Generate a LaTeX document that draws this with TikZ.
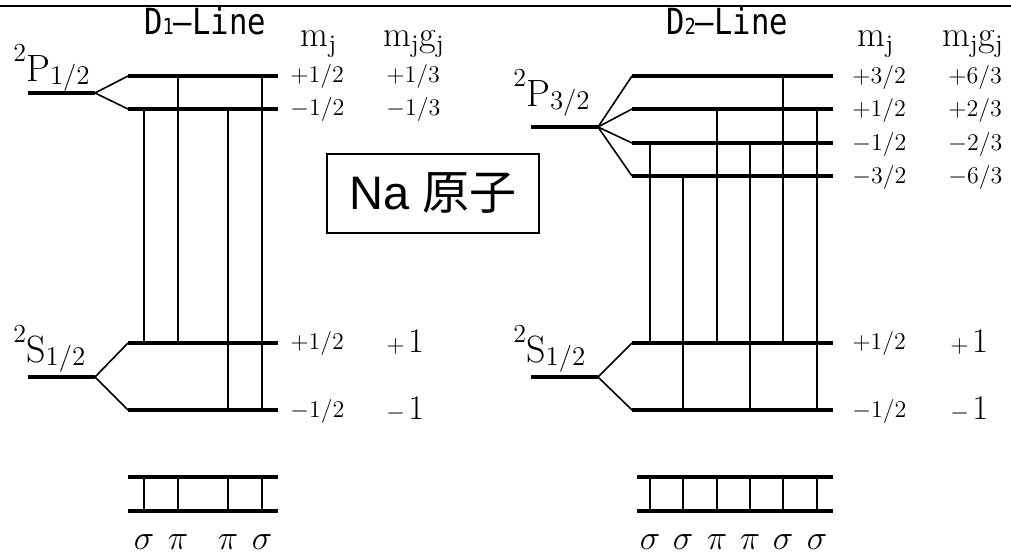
\documentclass[tikz,border=0pt]{standalone}
\usepackage{fontspec}
\usepackage{tikz}
\usetikzlibrary{calc,positioning}
\newfontfamily\monofnt{DejaVu Sans Mono}
\newfontfamily\sansfnt{Liberation Sans}
\newfontfamily\cjkfnt{Noto Sans CJK JP}
\tikzset{
    levelline/.style={line width=1.8pt, black},
    splitline/.style={line width=0.8pt, black},
    transline/.style={line width=0.8pt, black},
    vallabel/.style={anchor=west, inner sep=0pt, font=\fontsize{12.5}{14}\selectfont},
    termlabel/.style={anchor=base west, inner sep=0pt, font=\fontsize{19}{22}\selectfont},
    headlabel/.style={anchor=base, inner sep=0pt, font=\fontsize{18}{21}\selectfont},
    pollabel/.style={anchor=base, inner sep=0pt, font=\fontsize{19}{20}\selectfont},
    linetitle/.style={anchor=base, inner sep=0pt, font=\monofnt\fontsize{18}{20}\selectfont}
}
\newcommand{\bigval}[2]{{\fontsize{12.5}{14}\selectfont$#1$}\,{\fontsize{17}{20}\selectfont$#2$}}
\newcommand{\termtxt}[2]{\raisebox{0.55em}{\fontsize{13}{14}\selectfont 2}#1\raisebox{-0.06em}{\fontsize{13.5}{14}\selectfont #2}}
\newcommand{\dtitle}[1]{\scalebox{0.85}[1]{D{\fontsize{11}{12}\selectfont #1}–Line}}

\begin{document}
\begin{tikzpicture}[x=0.5pt,y=-0.5pt]
    \useasboundingbox (0,0) rectangle (1011,555);
    \coordinate (topl) at (0,6);
    \coordinate (topr) at (1011,6);
    \draw[line width=1pt] (topl) -- (topr);

    % ===================== D1-Line =====================
    \path
    (28,93) coordinate (pl0)   (95,93) coordinate (pls)
    (128,76) coordinate (plu)  (278,76) coordinate (plu_e)
    (128,109) coordinate (pld) (278,109) coordinate (pld_e)
    (28,377) coordinate (sl0)  (95,377) coordinate (sls)
    (128,343) coordinate (slu) (278,343) coordinate (slu_e)
    (128,410) coordinate (sld) (278,410) coordinate (sld_e)
    (128,477) coordinate (ll1) (278,477) coordinate (ll1_e)
    (128,511) coordinate (ll2) (278,511) coordinate (ll2_e)
    (144,511) coordinate (cl1) (178,511) coordinate (cl2)
    (228,511) coordinate (cl3) (262,511) coordinate (cl4);

    % levels
    \draw[levelline] (pl0) -- (pls);
    \draw[levelline] (plu) -- (plu_e);
    \draw[levelline] (pld) -- (pld_e);
    \draw[levelline] (sl0) -- (sls);
    \draw[levelline] (slu) -- (slu_e);
    \draw[levelline] (sld) -- (sld_e);
    \draw[levelline] (ll1) -- (ll1_e);
    \draw[levelline] (ll2) -- (ll2_e);
    % splitting
    \draw[splitline] (pls) -- (plu);
    \draw[splitline] (pls) -- (pld);
    \draw[splitline] (sls) -- (slu);
    \draw[splitline] (sls) -- (sld);
    % transitions
    \draw[transline] (cl1 |- pld) -- (cl1 |- slu);
    \draw[transline] (cl2 |- plu) -- (cl2 |- slu);
    \draw[transline] (cl3 |- pld) -- (cl3 |- sld);
    \draw[transline] (cl4 |- plu) -- (cl4 |- sld);
    \foreach \c in {cl1,cl2,cl3,cl4}
        \draw[transline] (\c |- ll1) -- (\c);

    % labels
    \node[linetitle] (d1) at (205,35) {\dtitle{1}};
    \node[headlabel] (mjl) at (319,47) {$\mathrm{m_j}$};
    \node[headlabel] (mjgjl) at (414,47) {$\mathrm{m_jg_j}$};
    \node[termlabel] (tpl) at (13,82) {\termtxt{P}{1/2}};
    \node[termlabel] (tsl) at (13,363) {\termtxt{S}{1/2}};
    \node[vallabel] (vl1) at (290,77) {$+1/2$};
    \node[vallabel] (vl2) at (290,110) {$-1/2$};
    \node[vallabel] (gl1) at (386,77) {$+1/3$};
    \node[vallabel] (gl2) at (386,110) {$-1/3$};
    \node[vallabel] (vl3) at (290,344) {$+1/2$};
    \node[vallabel] (vl4) at (290,411) {$-1/2$};
    \node[anchor=west, inner sep=0pt] (gl3) at (386,342) {\bigval{+}{1}};
    \node[anchor=west, inner sep=0pt] (gl4) at (386,409) {\bigval{-}{1}};
    \node[pollabel] (pl1) at (cl1 |- 0,549) {$\sigma$};
    \node[pollabel] (pl2) at (cl2 |- 0,549) {$\pi$};
    \node[pollabel] (pl3) at (cl3 |- 0,549) {$\pi$};
    \node[pollabel] (pl4) at (cl4 |- 0,549) {$\sigma$};

    % ===================== Na box =====================
    \node[draw, line width=0.9pt, minimum width=106pt, minimum height=39.5pt, inner sep=0pt,
          font=\fontsize{23.5}{26}\selectfont] (na) at (433,193.5) {\sansfnt Na \cjkfnt 原子};

    % ===================== D2-Line =====================
    \path
    (531,127) coordinate (pr0)  (598,127) coordinate (prs)
    (632,76) coordinate (pr1)   (833,76) coordinate (pr1_e)
    (632,109) coordinate (pr2)  (833,109) coordinate (pr2_e)
    (632,143) coordinate (pr3)  (833,143) coordinate (pr3_e)
    (632,176) coordinate (pr4)  (833,176) coordinate (pr4_e)
    (531,377) coordinate (sr0)  (598,377) coordinate (srs)
    (632,343) coordinate (sru)  (833,343) coordinate (sru_e)
    (632,410) coordinate (srd)  (833,410) coordinate (srd_e)
    (637,477) coordinate (lr1)  (833,477) coordinate (lr1_e)
    (637,511) coordinate (lr2)  (833,511) coordinate (lr2_e)
    (650,511) coordinate (cr1)  (683,511) coordinate (cr2)
    (717,511) coordinate (cr3)  (750,511) coordinate (cr4)
    (783,511) coordinate (cr5)  (817,511) coordinate (cr6);

    % levels
    \draw[levelline] (pr0) -- (prs);
    \foreach \l in {pr1,pr2,pr3,pr4}
        \draw[levelline] (\l) -- (\l_e);
    \draw[levelline] (sr0) -- (srs);
    \draw[levelline] (sru) -- (sru_e);
    \draw[levelline] (srd) -- (srd_e);
    \draw[levelline] (lr1) -- (lr1_e);
    \draw[levelline] (lr2) -- (lr2_e);
    % splitting
    \foreach \l in {pr1,pr2,pr3,pr4}
        \draw[splitline] (prs) -- (\l);
    \draw[splitline] (srs) -- (sru);
    \draw[splitline] (srs) -- (srd);
    % transitions
    \draw[transline] (cr1 |- pr3) -- (cr1 |- sru);
    \draw[transline] (cr2 |- pr4) -- (cr2 |- srd);
    \draw[transline] (cr3 |- pr2) -- (cr3 |- sru);
    \draw[transline] (cr4 |- pr3) -- (cr4 |- srd);
    \draw[transline] (cr5 |- pr1) -- (cr5 |- sru);
    \draw[transline] (cr6 |- pr2) -- (cr6 |- srd);
    \foreach \c in {cr1,cr2,cr3,cr4,cr5,cr6}
        \draw[transline] (\c |- lr1) -- (\c);

    % labels
    \node[linetitle] (d2) at (727,35) {\dtitle{2}};
    \node[headlabel] (mjr) at (876,47) {$\mathrm{m_j}$};
    \node[headlabel] (mjgjr) at (973,47) {$\mathrm{m_jg_j}$};
    \node[termlabel] (tpr) at (513,107) {\termtxt{P}{3/2}};
    \node[termlabel] (tsr) at (513,363) {\termtxt{S}{1/2}};
    \node[vallabel] (vr1) at (852,78) {$+3/2$};
    \node[vallabel] (vr2) at (852,111) {$+1/2$};
    \node[vallabel] (vr3) at (852,145) {$-1/2$};
    \node[vallabel] (vr4) at (852,178) {$-3/2$};
    \node[vallabel] (gr1) at (948,78) {$+6/3$};
    \node[vallabel] (gr2) at (948,111) {$+2/3$};
    \node[vallabel] (gr3) at (948,145) {$-2/3$};
    \node[vallabel] (gr4) at (948,178) {$-6/3$};
    \node[vallabel] (vr5) at (852,344) {$+1/2$};
    \node[vallabel] (vr6) at (852,411) {$-1/2$};
    \node[anchor=west, inner sep=0pt] (gr5) at (950,342) {\bigval{+}{1}};
    \node[anchor=west, inner sep=0pt] (gr6) at (950,409) {\bigval{-}{1}};
    \node[pollabel] (pr_1) at (cr1 |- 0,549) {$\sigma$};
    \node[pollabel] (pr_2) at (cr2 |- 0,549) {$\sigma$};
    \node[pollabel] (pr_3) at (cr3 |- 0,549) {$\pi$};
    \node[pollabel] (pr_4) at (cr4 |- 0,549) {$\pi$};
    \node[pollabel] (pr_5) at (cr5 |- 0,549) {$\sigma$};
    \node[pollabel] (pr_6) at (cr6 |- 0,549) {$\sigma$};
\end{tikzpicture}
\end{document}
